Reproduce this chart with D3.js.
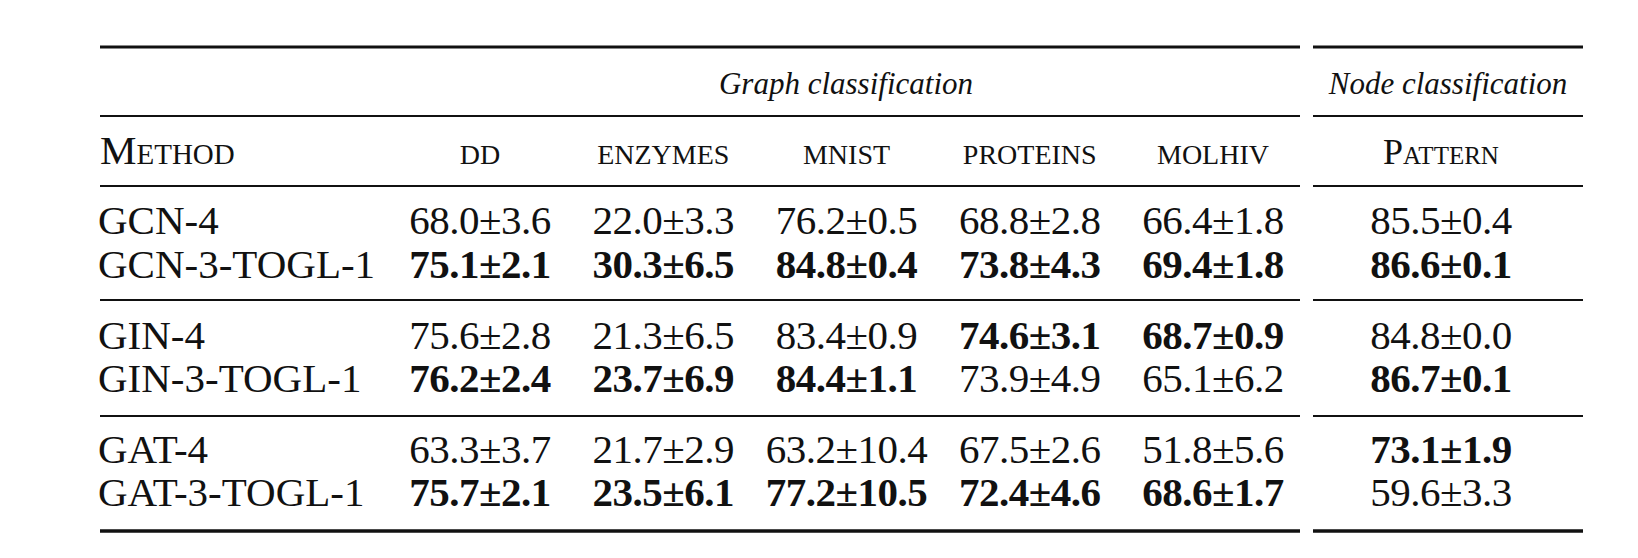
<!DOCTYPE html>
<html><head><meta charset="utf-8">
<script src="https://cdn.jsdelivr.net/npm/d3@7"></script>
<style>body{margin:0;background:#fff}text{font-family:"Liberation Serif","Times New Roman",serif;fill:#111}</style>
</head><body>
<script>
const columns = ["dd", "enzymes", "mnist", "proteins", "molhiv", "Pattern"];
const methods = ["GCN-4", "GCN-3-TOGL-1", "GIN-4", "GIN-3-TOGL-1", "GAT-4", "GAT-3-TOGL-1"];
const values = [
  ["68.0±3.6", "22.0±3.3", "76.2±0.5", "68.8±2.8", "66.4±1.8", "85.5±0.4"],
  ["75.1±2.1", "30.3±6.5", "84.8±0.4", "73.8±4.3", "69.4±1.8", "86.6±0.1"],
  ["75.6±2.8", "21.3±6.5", "83.4±0.9", "74.6±3.1", "68.7±0.9", "84.8±0.0"],
  ["76.2±2.4", "23.7±6.9", "84.4±1.1", "73.9±4.9", "65.1±6.2", "86.7±0.1"],
  ["63.3±3.7", "21.7±2.9", "63.2±10.4", "67.5±2.6", "51.8±5.6", "73.1±1.9"],
  ["75.7±2.1", "23.5±6.1", "77.2±10.5", "72.4±4.6", "68.6±1.7", "59.6±3.3"]
];
const bold = [
  [0,0,0,0,0,0],[1,1,1,1,1,1],
  [0,0,0,1,1,0],[1,1,1,0,0,1],
  [0,0,0,0,0,1],[1,1,1,1,1,0]
];

const W = 1638, H = 558;
const svg = d3.select("body").append("svg").attr("width", W).attr("height", H);

const x = d3.scalePoint().domain(columns.slice(0, 5)).range([480, 1213]);
const xc = c => c === "Pattern" ? 1441 : x(c);
const rowY = d3.scaleOrdinal().domain(methods).range([234, 278, 349, 392, 463, 506]);
const FS = 41;

function rule(y, w) {
  [[100, 1300], [1313, 1583]].forEach(([a, b]) =>
    svg.append("line").attr("x1", a).attr("x2", b).attr("y1", y).attr("y2", y)
      .attr("stroke", "#111").attr("stroke-width", w));
}
rule(47, 3); rule(116, 2); rule(186, 2); rule(300, 2); rule(416, 2); rule(531, 3.5);

svg.append("text").attr("x", 846).attr("y", 94).attr("text-anchor", "middle")
  .attr("font-size", 31).attr("font-style", "italic").text("Graph classification");
svg.append("text").attr("x", 1448).attr("y", 94).attr("text-anchor", "middle")
  .attr("font-size", 31).attr("font-style", "italic").text("Node classification");

svg.append("text").attr("x", 100).attr("y", 164).attr("font-size", FS)
  .style("font-variant", "small-caps").text("Method");
svg.selectAll("text.col").data(columns).enter().append("text")
  .attr("x", d => xc(d)).attr("y", 164).attr("text-anchor", "middle")
  .attr("font-size", d => d === "Pattern" ? 36 : 40).style("font-variant", "small-caps").text(d => d);

svg.selectAll("text.m").data(methods).enter().append("text")
  .attr("x", 98).attr("y", d => rowY(d)).attr("font-size", FS).text(d => d);

methods.forEach((m, i) => {
  svg.selectAll(null).data(values[i]).enter().append("text")
    .attr("x", (d, j) => xc(columns[j])).attr("y", rowY(m))
    .attr("text-anchor", "middle").attr("font-size", FS)
    .attr("font-weight", (d, j) => bold[i][j] ? "bold" : "normal")
    .attr("letter-spacing", -0.5)
    .text(d => d);
});
</script>
</body></html>
